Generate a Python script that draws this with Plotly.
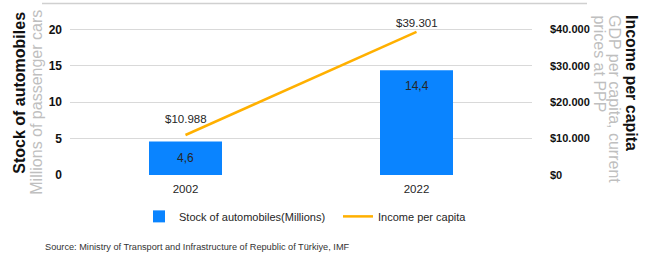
import plotly.graph_objects as go

years = ["2002", "2022"]
stock_millions = [4.6, 14.4]
stock_labels = ["4,6", "14,4"]
income_per_capita = [10988, 39301]
income_labels = ["$10.988", "$39.301"]
left_ticks = [0, 5, 10, 15, 20]
right_ticks = [0, 10000, 20000, 30000, 40000]
right_tick_text = ["$0", "$10.000", "$20.000", "$30.000", "$40.000"]

FONT = "Liberation Sans, Arial, sans-serif"
TXT = "#262626"
GRAY = "#BFBFBF"

# plot-area geometry in pixels (from reference)
W, H = 646, 255
L, R, T, B = 70, 532, 3, 175.5
PW, PH = R - L, B - T

fig = go.Figure()
fig.add_trace(go.Bar(
    x=years, y=stock_millions, name="Stock of automobiles(Millions)",
    marker=dict(color="#0A84FF", line=dict(width=0)), width=0.316, yaxis="y",
))
fig.add_trace(go.Scatter(
    x=years, y=income_per_capita, name="Income per capita",
    mode="lines", line=dict(color="#FFB000", width=2.5), yaxis="y2",
))

# value labels (bar labels inside end, line labels above)
for i, (v, lab) in enumerate(zip(stock_millions, stock_labels)):
    fig.add_annotation(x=i, y=v, xref="x", yref="y", text=lab, showarrow=False,
                       xanchor="center", yanchor="middle", yshift=-16,
                       font=dict(family=FONT, size=12, color=TXT))
label_shift = [16, 9]
for i, (v, lab, s) in enumerate(zip(income_per_capita, income_labels, label_shift)):
    fig.add_annotation(x=i, y=v, xref="x", yref="y2", text=lab, showarrow=False,
                       xanchor="center", yanchor="middle", yshift=s,
                       font=dict(family=FONT, size=11.5, color=TXT))

fig.update_layout(
    width=W, height=H,
    margin=dict(l=L, r=W - R, t=T, b=H - B, autoexpand=False),
    plot_bgcolor="white", paper_bgcolor="white",
    separators=",.",
    font=dict(family=FONT, size=11, color=TXT),
    xaxis=dict(type="category", categoryorder="array", categoryarray=years,
               range=[-0.5, 1.5], showgrid=False, showline=False, ticks="",
               tickfont=dict(size=11.5, color=TXT), ticklabelstandoff=5),
    yaxis=dict(range=[0, 23.63], tickvals=left_ticks, showgrid=True, gridcolor="#D9D9D9",
               gridwidth=1, zeroline=False, showline=False, ticks="",
               tickfont=dict(size=12, color="#111111", weight="bold"), ticklabelstandoff=7),
    yaxis2=dict(range=[0, 47260], tickvals=right_ticks, ticktext=right_tick_text,
                overlaying="y", side="right",
                showgrid=False, zeroline=False, showline=False, ticks="",
                tickfont=dict(size=11, color="#111111", weight="bold"), ticklabelstandoff=17),
    legend=dict(orientation="h", x=(139 - L) / PW, xanchor="left", y=(B - 217) / PH,
                yanchor="middle", font=dict(size=11, color=TXT), bgcolor="rgba(0,0,0,0)",
                entrywidth=154, entrywidthmode="pixels"),
    showlegend=True,
)

def px(x):
    return (x - L) / PW

def py(y):
    return (B - y) / PH

# Frame line at top
fig.add_shape(type="line", xref="paper", yref="paper", x0=px(42), x1=px(587), y0=py(3.5), y1=py(3.5),
              line=dict(color="#D0D0D0", width=1.5), layer="above")

fig.add_annotation(text="<b>Stock of automobiles</b>", xref="paper", yref="paper",
                   x=px(20), y=py(93), xanchor="center", yanchor="middle", showarrow=False,
                   textangle=-90, font=dict(size=16, color="#111111", family=FONT))
fig.add_annotation(text="Millions of passenger cars", xref="paper", yref="paper",
                   x=px(37), y=py(103), xanchor="center", yanchor="middle", showarrow=False,
                   textangle=-90, font=dict(size=16, color=GRAY, family=FONT))

right_titles = [
    ("<b>Income per capita</b>", 631, "#111111"),
    ("GDP per capita, current", 614, GRAY),
    ("prices at PPP", 600, GRAY),
]
for text, xc, col in right_titles:
    fig.add_annotation(text=text, xref="paper", yref="paper", x=px(xc), y=py(13),
                       xanchor="center", yanchor="top", showarrow=False, textangle=90,
                       font=dict(size=16, color=col, family=FONT))

fig.add_annotation(text="Source: Ministry of Transport and Infrastructure of Republic of Türkiye, IMF",
                   xref="paper", yref="paper", x=px(43), y=py(248),
                   xanchor="left", yanchor="middle", showarrow=False,
                   font=dict(size=9.2, color="#333333", family=FONT))

fig.write_html("out.html", config={"displayModeBar": False},
               post_script="document.body.style.margin='0';document.body.style.overflow='hidden';")
